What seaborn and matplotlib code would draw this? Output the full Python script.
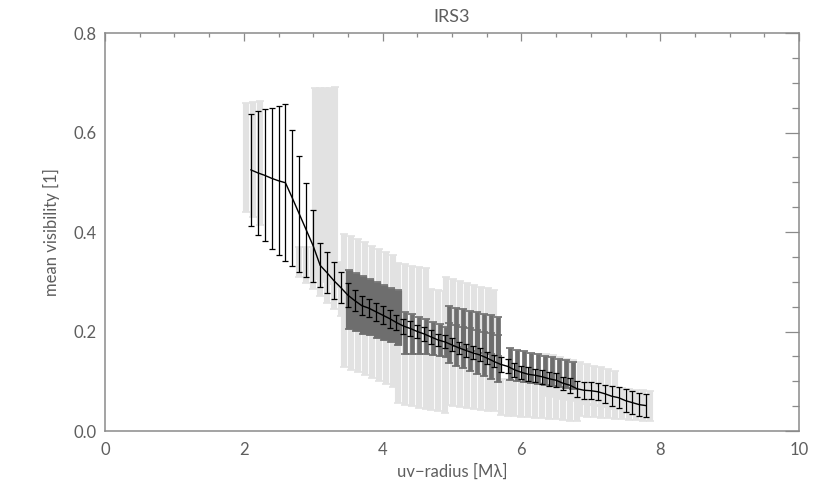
import matplotlib
matplotlib.use("Agg")
import matplotlib.pyplot as plt
import numpy as np
import pandas as pd
import seaborn as sns
from matplotlib.ticker import MultipleLocator

# mean visibility of the full dataset (black)
uv_radius = [2.1, 2.2, 2.3, 2.4, 2.5, 2.6, 2.7, 2.8, 2.9, 3.0,
             3.1, 3.2, 3.3, 3.4, 3.5, 3.6, 3.7, 3.8, 3.9, 4.0,
             4.1, 4.2, 4.3, 4.4, 4.5, 4.6, 4.7, 4.8, 4.9, 5.0,
             5.1, 5.2, 5.3, 5.4, 5.5, 5.6, 5.7, 5.8, 5.9, 6.0,
             6.1, 6.2, 6.3, 6.4, 6.5, 6.6, 6.7, 6.8, 6.9, 7.0,
             7.1, 7.2, 7.3, 7.4, 7.5, 7.6, 7.7, 7.8]
mean_vis = [0.525, 0.519, 0.514, 0.508, 0.503, 0.499, 0.468, 0.436, 0.404, 0.372,
            0.333, 0.318, 0.302, 0.288, 0.273, 0.262, 0.252, 0.247, 0.240, 0.233,
            0.226, 0.218, 0.211, 0.206, 0.200, 0.195, 0.189, 0.183, 0.179, 0.173,
            0.167, 0.162, 0.157, 0.153, 0.147, 0.140, 0.134, 0.130, 0.123, 0.118,
            0.114, 0.112, 0.109, 0.105, 0.102, 0.096, 0.092, 0.085, 0.082, 0.081,
            0.079, 0.075, 0.070, 0.067, 0.061, 0.057, 0.053, 0.051]
err_vis = [0.113, 0.124, 0.133, 0.142, 0.150, 0.158, 0.137, 0.116, 0.095, 0.072,
           0.044, 0.041, 0.037, 0.031, 0.024, 0.021, 0.019, 0.018, 0.018, 0.018,
           0.018, 0.015, 0.015, 0.015, 0.014, 0.014, 0.014, 0.013, 0.013, 0.013,
           0.012, 0.013, 0.013, 0.013, 0.012, 0.012, 0.015, 0.014, 0.014, 0.013,
           0.014, 0.013, 0.014, 0.014, 0.014, 0.013, 0.015, 0.016, 0.017, 0.017,
           0.017, 0.018, 0.020, 0.021, 0.023, 0.023, 0.023, 0.023]

# single baselines, light grey (x, lower, upper)
lg1_x = [2.03, 2.13, 2.23]
lg1_lo = [0.440, 0.430, 0.415]
lg1_hi = [0.660, 0.662, 0.664]

lg2_x = [3.03, 3.10, 3.17, 3.24, 3.31]
lg2_lo = [0.310, 0.305, 0.300, 0.295, 0.290]
lg2_hi = [0.689, 0.689, 0.690, 0.690, 0.691]

lg3_x = [2.80, 2.90, 3.00, 3.10, 3.20, 3.30, 3.40]
lg3_lo = [0.310, 0.298, 0.285, 0.271, 0.257, 0.245, 0.232]
lg3_hi = [0.370, 0.370, 0.370, 0.360, 0.350, 0.350, 0.340]

lg4_x = [3.45, 3.55, 3.65, 3.75, 3.85, 3.95, 4.05, 4.15]
lg4_lo = [0.129, 0.123, 0.118, 0.112, 0.106, 0.100, 0.095, 0.089]
lg4_hi = [0.397, 0.391, 0.385, 0.379, 0.372, 0.366, 0.360, 0.354]

lg5_x = [4.22, 4.32, 4.42, 4.52, 4.62]
lg5_lo = [0.056, 0.053, 0.050, 0.047, 0.045]
lg5_hi = [0.337, 0.335, 0.332, 0.330, 0.327]

lg6_x = [4.70, 4.80, 4.90]
lg6_lo = [0.043, 0.040, 0.037]
lg6_hi = [0.285, 0.284, 0.282]

lg7_x = [4.92, 5.02, 5.12, 5.22, 5.32, 5.42, 5.52, 5.60]
lg7_lo = [0.052, 0.050, 0.048, 0.046, 0.045, 0.043, 0.041, 0.040]
lg7_hi = [0.310, 0.306, 0.302, 0.298, 0.294, 0.290, 0.287, 0.283]

lg8_x = [5.70, 5.80, 5.90, 6.00, 6.10, 6.20, 6.30, 6.40, 6.50, 6.60, 6.70, 6.80]
lg8_lo = [0.032, 0.031, 0.030, 0.029, 0.028, 0.027, 0.026, 0.025, 0.024, 0.022, 0.021, 0.020]
lg8_hi = [0.105, 0.104, 0.103, 0.101, 0.100, 0.099, 0.097, 0.096, 0.095, 0.093, 0.092, 0.090]

lg9_x = [6.35, 6.45, 6.55, 6.65, 6.75, 6.85, 6.95, 7.05, 7.15, 7.25, 7.35]
lg9_lo = [0.070, 0.068, 0.065, 0.063, 0.060, 0.058, 0.055, 0.053, 0.050, 0.048, 0.045]
lg9_hi = [0.155, 0.152, 0.148, 0.145, 0.142, 0.138, 0.135, 0.131, 0.128, 0.124, 0.121]

lg10_x = [6.85, 6.95, 7.05, 7.15, 7.25, 7.35, 7.45, 7.55, 7.65, 7.75, 7.85]
lg10_lo = [0.030, 0.029, 0.028, 0.027, 0.026, 0.025, 0.024, 0.023, 0.022, 0.021, 0.020]
lg10_hi = [0.095, 0.094, 0.092, 0.091, 0.089, 0.088, 0.086, 0.085, 0.083, 0.082, 0.080]

# selected baselines, dark grey
dg1_x = [3.52, 3.62, 3.72, 3.82, 3.92, 4.02, 4.12, 4.22]
dg1_lo = [0.206, 0.201, 0.196, 0.192, 0.187, 0.182, 0.178, 0.173]
dg1_hi = [0.323, 0.318, 0.312, 0.306, 0.300, 0.294, 0.288, 0.283]

dg2_x = [4.32, 4.42, 4.52, 4.62, 4.72, 4.82, 4.92]
dg2_lo = [0.155, 0.155, 0.155, 0.154, 0.153, 0.150, 0.148]
dg2_hi = [0.240, 0.235, 0.230, 0.225, 0.220, 0.215, 0.210]

dg3_x = [4.96, 5.06, 5.16, 5.26, 5.36, 5.46, 5.56, 5.66]
dg3_lo = [0.175, 0.171, 0.168, 0.164, 0.161, 0.157, 0.154, 0.150]
dg3_hi = [0.251, 0.248, 0.245, 0.242, 0.239, 0.236, 0.233, 0.230]

dg4_x = [4.96, 5.06, 5.16, 5.26, 5.36, 5.46, 5.56, 5.66]
dg4_lo = [0.136, 0.131, 0.126, 0.120, 0.115, 0.110, 0.104, 0.099]
dg4_hi = [0.2165, 0.213, 0.210, 0.2065, 0.203, 0.200, 0.1965, 0.193]

dg5_x = [5.84, 5.94, 6.04, 6.14, 6.24, 6.34, 6.44, 6.54, 6.64, 6.74]
dg5_lo = [0.103, 0.101, 0.099, 0.097, 0.095, 0.093, 0.091, 0.089, 0.087, 0.085]
dg5_hi = [0.166, 0.163, 0.160, 0.157, 0.154, 0.151, 0.148, 0.145, 0.142, 0.139]

LIGHT = "#e2e2e2"
DARK = "#6e6e6e"
AXIS_GREY = "#8a8a8a"
TEXT_GREY = "#5e5e5e"


def draw_group(ax, xs, lo, hi, color, lw):
    lo = np.asarray(lo)
    hi = np.asarray(hi)
    ax.errorbar(
        xs,
        (lo + hi) / 2,
        yerr=(hi - lo) / 2,
        fmt="none",
        ecolor=color,
        elinewidth=lw,
        capsize=2.6,
        capthick=1.2,
    )


sns.set_theme(style="white")
plt.rcParams["font.family"] = ["Lato", "DejaVu Sans"]

fig, ax = plt.subplots(figsize=(8.3, 4.98), dpi=100)
fig.subplots_adjust(left=0.1265, right=0.9627, bottom=0.1345, top=0.9337)

light_groups = [
    (lg1_x, lg1_lo, lg1_hi), (lg2_x, lg2_lo, lg2_hi), (lg3_x, lg3_lo, lg3_hi),
    (lg4_x, lg4_lo, lg4_hi), (lg5_x, lg5_lo, lg5_hi), (lg6_x, lg6_lo, lg6_hi),
    (lg7_x, lg7_lo, lg7_hi), (lg8_x, lg8_lo, lg8_hi), (lg9_x, lg9_lo, lg9_hi),
    (lg10_x, lg10_lo, lg10_hi),
]
for xs, lo, hi in light_groups:
    draw_group(ax, xs, lo, hi, LIGHT, 4.4)

draw_group(ax, dg1_x, dg1_lo, dg1_hi, DARK, 5.2)
for xs, lo, hi in [(dg2_x, dg2_lo, dg2_hi), (dg3_x, dg3_lo, dg3_hi),
                   (dg4_x, dg4_lo, dg4_hi), (dg5_x, dg5_lo, dg5_hi)]:
    draw_group(ax, xs, lo, hi, DARK, 3.4)

df = pd.DataFrame({"uv": uv_radius, "vis": mean_vis, "err": err_vis})
ax.errorbar(df["uv"], df["vis"], yerr=df["err"], fmt="none",
            ecolor="black", elinewidth=0.9, capsize=2.2, capthick=0.9)
sns.lineplot(data=df, x="uv", y="vis", color="black", linewidth=1.0, ax=ax)

ax.set_xlim(0, 10)
ax.set_ylim(0, 0.8)
ax.xaxis.set_major_locator(MultipleLocator(2))
ax.xaxis.set_minor_locator(MultipleLocator(0.5))
ax.yaxis.set_major_locator(MultipleLocator(0.2))
ax.yaxis.set_minor_locator(MultipleLocator(0.05))
ax.xaxis.set_major_formatter(plt.FuncFormatter(lambda v, p: f"{v:.0f}"))
ax.yaxis.set_major_formatter(plt.FuncFormatter(lambda v, p: f"{v:.1f}"))

ax.tick_params(which="both", direction="in", top=True, right=True,
               color=AXIS_GREY, labelcolor=TEXT_GREY, labelsize=12, width=0.9)
ax.tick_params(axis="x", which="major", length=5.8, pad=8)
ax.tick_params(axis="x", which="minor", length=2.9)
ax.tick_params(axis="y", which="major", length=10, pad=6)
ax.tick_params(axis="y", which="minor", length=5)
for spine in ax.spines.values():
    spine.set_color(AXIS_GREY)
    spine.set_linewidth(1.1)

ax.set_xlabel("uv\u2212radius [M\u03bb]", color=TEXT_GREY, fontsize=12, labelpad=4)
ax.set_ylabel("mean visibility [1]", color=TEXT_GREY, fontsize=12, labelpad=10)
ax.set_title("IRS3", color=TEXT_GREY, fontsize=13, pad=8)

fig.savefig("out.png", dpi=100)
plt.close(fig)
